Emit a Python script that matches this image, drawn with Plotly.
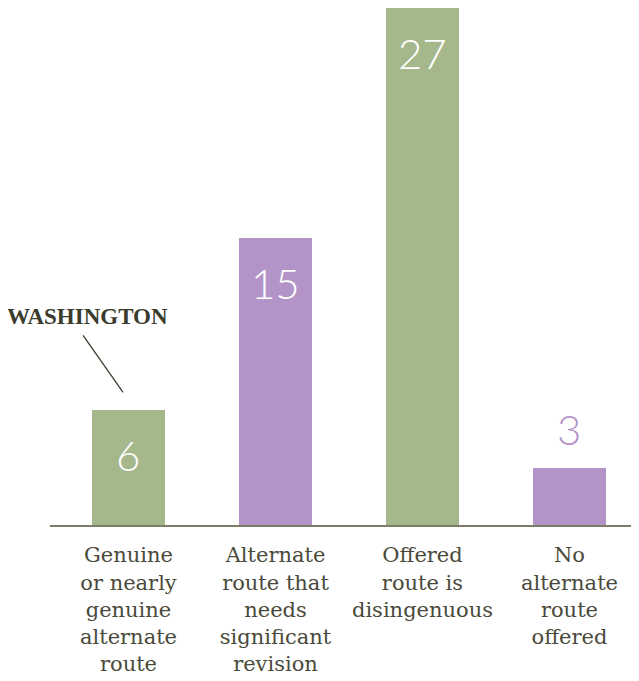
import plotly.graph_objects as go

categories = [
    "Genuine<br>or nearly<br>genuine<br>alternate<br>route",
    "Alternate<br>route that<br>needs<br>significant<br>revision",
    "Offered<br>route is<br>disingenuous",
    "No<br>alternate<br>route<br>offered",
]
values = [6, 15, 27, 3]
bar_colors = ["#a5b88c", "#b394c8", "#a5b88c", "#b394c8"]

idx = list(range(len(categories)))

fig = go.Figure()
fig.add_trace(go.Bar(
    x=idx, y=values, width=0.497,
    marker=dict(color=bar_colors, line=dict(width=0)),
    hoverinfo="skip",
))

for i, v in enumerate(values):
    inside = v >= 5
    fig.add_annotation(
        x=i, y=v, xref="x", yref="y",
        text=str(v), showarrow=False,
        yshift=-45 if inside else 39,
        font=dict(family="Lato", size=42, weight=300,
                  color="#ffffff" if inside else bar_colors[i]),
    )

# WASHINGTON callout
fig.add_annotation(
    x=-0.276, y=10.89, xref="x", yref="y", text="<b>WASHINGTON</b>",
    showarrow=False,
    font=dict(family="Liberation Serif", size=23, color="#3b3b2c"),
)
fig.add_shape(type="line", xref="x", yref="y",
              x0=-0.309, y0=9.90, x1=-0.037, y1=6.93,
              line=dict(color="#3b3b2c", width=1.3))

fig.update_layout(
    width=631, height=673,
    margin=dict(l=42, r=0, t=0, b=156),
    plot_bgcolor="white", paper_bgcolor="white",
    showlegend=False,
    bargap=0,
)
fig.update_xaxes(
    range=[-0.534, 3.473],
    tickmode="array", tickvals=idx, ticktext=categories,
    tickfont=dict(family="DejaVu Serif", size=21, color="#4a4a3a"),
    ticklabelstandoff=10,
    showline=True, linecolor="#7d7d68", linewidth=2,
    showgrid=False, zeroline=False, ticks="",
)
fig.update_yaxes(range=[0, 27], visible=False, showgrid=False, zeroline=False)

fig.write_html("out.html")
